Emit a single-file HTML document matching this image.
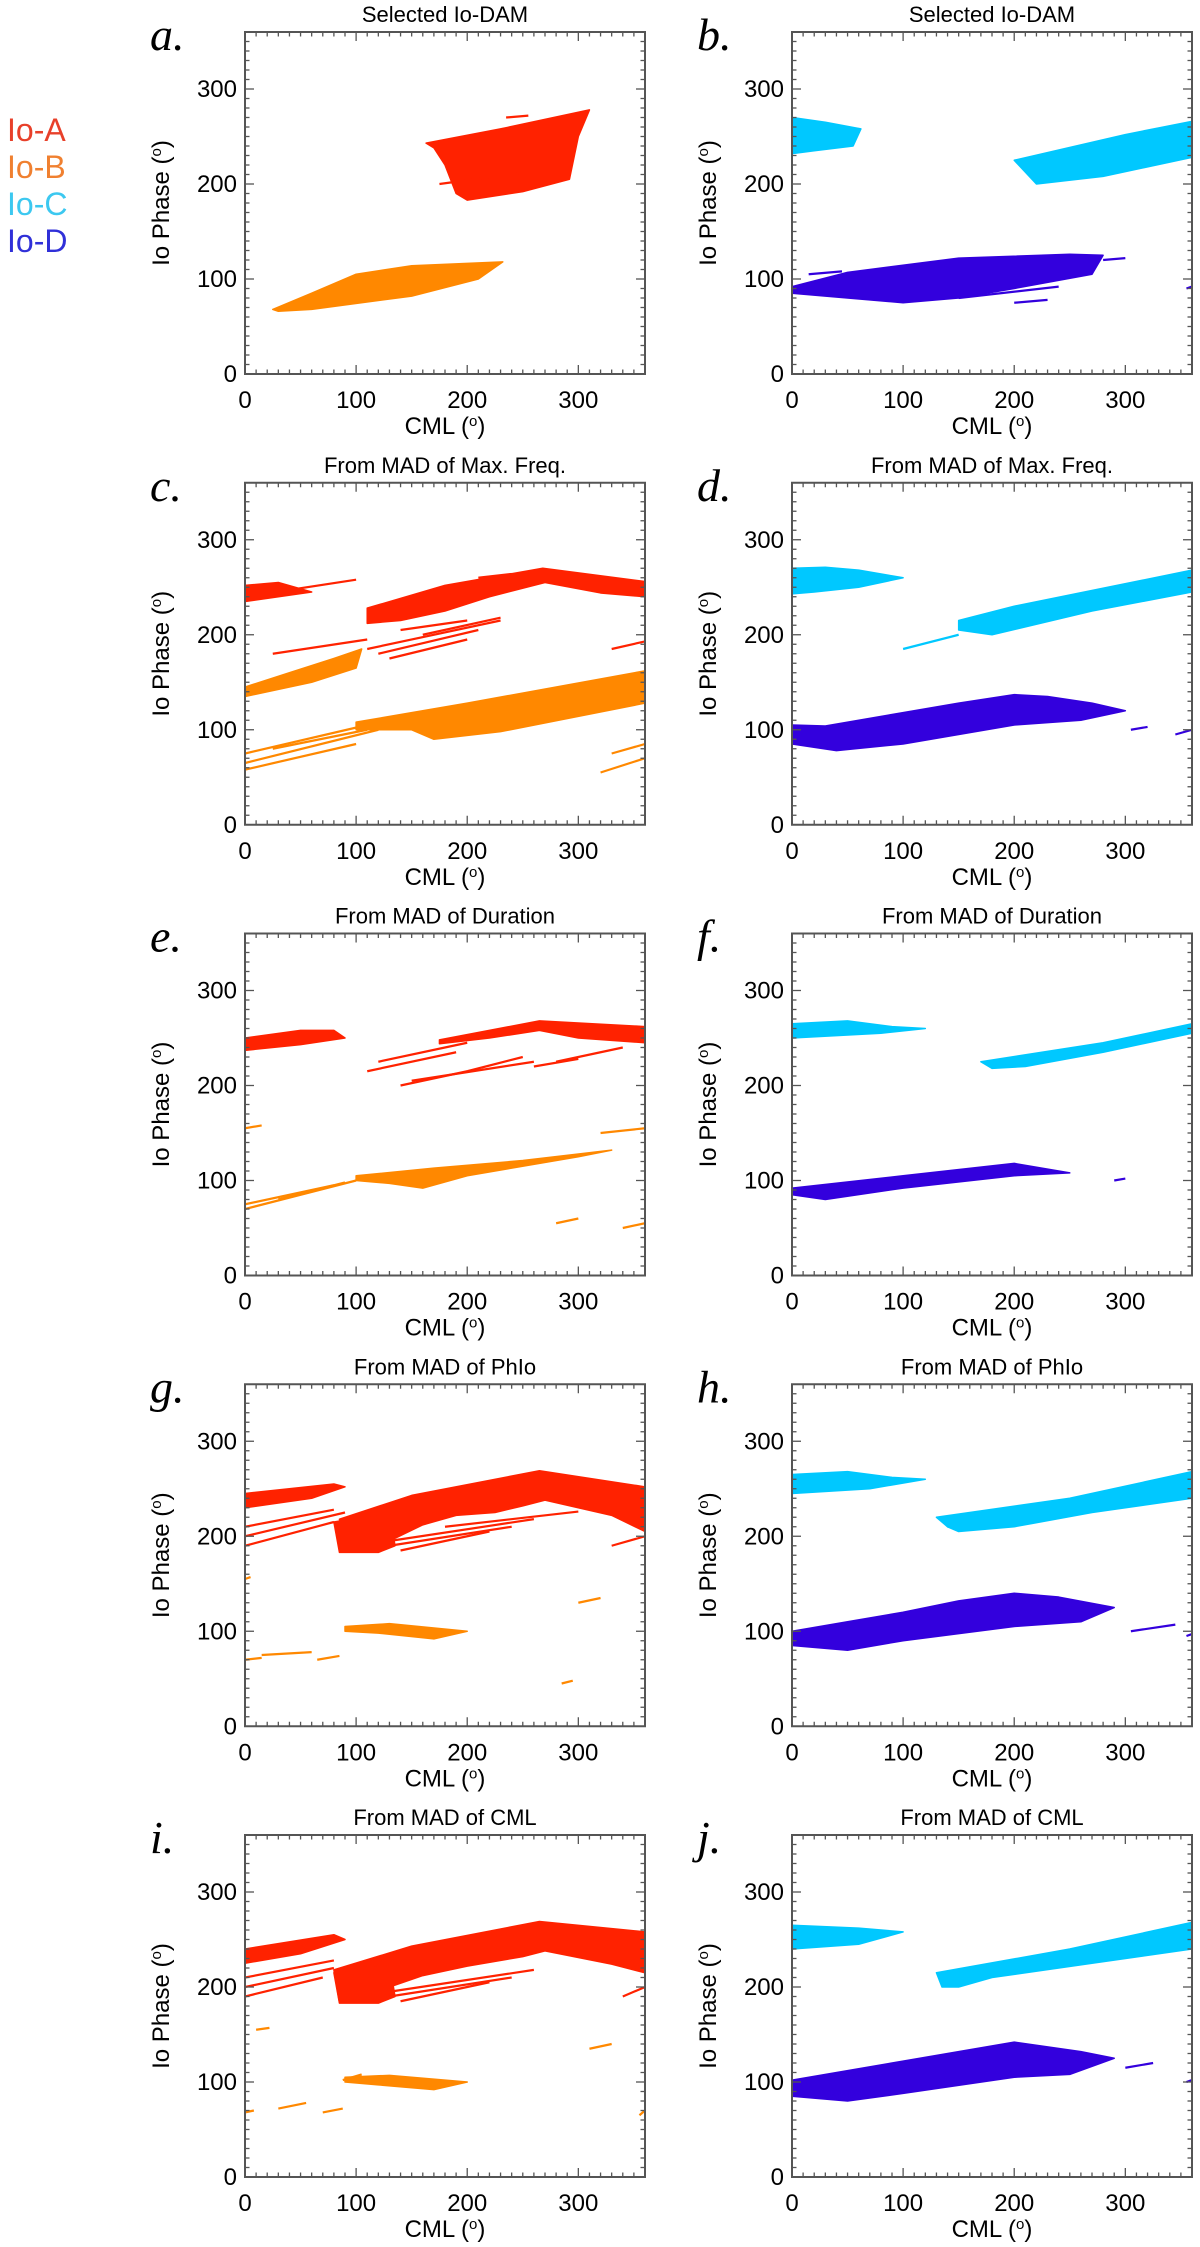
<!DOCTYPE html>
<html><head><meta charset="utf-8">
<style>
html,body{margin:0;padding:0;background:#fff;}
svg{display:block;}
text{font-family:"Liberation Sans",sans-serif;}
text.letter{font-family:"Liberation Serif",serif;font-style:italic;}
</style></head>
<body>
<svg id="fig" width="1200" height="2247" viewBox="0 0 1200 2247" xmlns="http://www.w3.org/2000/svg">
<g>
<text x="7" y="141" font-size="32" fill="#e8402a">Io-A</text>
<text x="7" y="178" font-size="32" fill="#f08030">Io-B</text>
<text x="7" y="215" font-size="32" fill="#3cc8f0">Io-C</text>
<text x="7" y="252" font-size="32" fill="#3030d8">Io-D</text>
</g>
</svg>
<script>
// ---- data (CML deg, Io phase deg) ----
const xTicks = [0,100,200,300];
const yTicks = [0,100,200,300];
const panelLetters = ["a.","b.","c.","d.","e.","f.","g.","h.","i.","j."];
const panelTitles = ["Selected Io-DAM","Selected Io-DAM","From MAD of Max. Freq.","From MAD of Max. Freq.","From MAD of Duration","From MAD of Duration","From MAD of PhIo","From MAD of PhIo","From MAD of CML","From MAD of CML"];
const colors = {A:"#ff2200",B:"#ff8800",C:"#00c8ff",D:"#3300dd"};

// polygons: [species, [[cml,phase],...]]
const polysA = [["A",[[163,243],[230,258],[310,278],[300,250],[292,205],[250,192],[200,183],[190,190],[180,220],[170,238]]],
 ["B",[[25,68],[60,85],[100,105],[150,114],[232,118],[210,100],[150,82],[60,68],[30,66]]]];
const polysB = [["C",[[0,270],[30,265],[62,258],[55,240],[20,235],[0,232]]],
 ["C",[[200,225],[300,252],[360,266],[360,228],[280,208],[220,200]]],
 ["D",[[0,92],[50,107],[150,122],[250,126],[280,125],[270,105],[200,90],[150,80],[100,75],[50,80],[0,85]]]];
const polysC = [["A",[[0,252],[30,255],[60,245],[0,235]]],
 ["A",[[110,228],[180,252],[268,270],[360,256],[360,240],[320,244],[270,255],[220,240],[180,225],[140,215],[110,212]]],
 ["B",[[0,145],[40,160],[80,175],[105,185],[100,165],[60,150],[0,135]]],
 ["B",[[100,108],[200,128],[360,162],[360,128],[230,98],[170,90],[150,100],[100,100]]]];
const polysD = [["C",[[0,270],[30,271],[60,268],[90,262],[100,260],[60,250],[20,245],[0,243]]],
 ["C",[[150,215],[200,230],[360,268],[360,245],[270,225],[180,200],[150,205]]],
 ["D",[[0,105],[30,104],[100,118],[150,128],[200,137],[230,135],[270,128],[300,120],[260,110],[200,105],[100,85],[40,78],[0,85]]]];
const polysE = [["A",[[0,250],[50,258],[80,258],[90,250],[50,243],[0,237]]],
 ["A",[[175,248],[265,268],[360,262],[360,245],[300,250],[265,258],[220,250],[175,244]]],
 ["B",[[100,105],[170,113],[250,121],[330,132],[300,125],[200,105],[160,92],[130,97],[100,100]]]];
const polysF = [["C",[[0,265],[50,268],[90,262],[120,260],[80,255],[0,250]]],
 ["C",[[170,225],[280,245],[360,265],[360,255],[280,235],[210,220],[180,218]]],
 ["D",[[0,92],[100,105],[200,118],[250,108],[200,105],[100,92],[30,80],[0,85]]]];
const polysG = [["A",[[0,245],[80,255],[90,252],[60,240],[0,230]]],
 ["A",[[85,218],[150,243],[265,269],[360,252],[360,205],[330,222],[270,238],[250,232],[225,225],[190,222],[160,212],[130,195],[120,186],[90,184]]],
 ["A",[[80,215],[130,225],[135,190],[120,183],[85,183]]],
 ["B",[[90,105],[130,108],[200,100],[170,92],[120,98],[90,100]]]];
const polysH = [["C",[[0,265],[50,268],[90,262],[120,260],[70,250],[0,245]]],
 ["C",[[130,220],[250,240],[360,268],[360,240],[270,225],[200,210],[150,205],[140,210]]],
 ["D",[[0,100],[50,110],[100,120],[150,132],[200,140],[240,136],[290,125],[260,110],[200,105],[100,90],[50,80],[0,85]]]];
const polysI = [["A",[[0,240],[80,255],[90,250],[50,235],[0,225]]],
 ["A",[[80,218],[150,243],[265,269],[360,258],[360,215],[330,224],[270,238],[250,232],[200,222],[160,212],[130,200],[115,186],[85,184]]],
 ["A",[[80,215],[130,225],[135,190],[120,183],[85,183]]],
 ["B",[[90,105],[130,107],[200,100],[170,92],[120,97],[90,100]]]];
const polysJ = [["C",[[0,265],[60,262],[100,258],[60,245],[0,240]]],
 ["C",[[130,215],[250,240],[360,268],[360,240],[270,225],[180,210],[150,200],[135,200]]],
 ["D",[[0,102],[100,122],[200,142],[260,132],[290,125],[250,108],[200,105],[100,88],[50,80],[0,85]]]];

// streaks: [species, cml0, phase0, cml1, phase1]
const streaksA = [["A",235,270,255,272],["A",175,200,270,215],["B",50,75,120,90]];
const streaksB = [["D",15,105,45,108],["D",200,75,230,78],["D",150,80,240,92],["D",280,120,300,122],["D",355,90,360,92]];
const streaksC = [["A",0,240,100,258],["A",25,180,110,195],["A",110,185,230,215],["A",120,180,210,205],["A",130,175,200,195],["A",160,200,230,218],["A",140,205,200,215],["A",330,185,360,193],["A",210,260,240,264],
 ["B",0,75,110,105],["B",0,65,120,100],["B",0,58,100,85],["B",25,80,110,100],["B",320,55,360,70],["B",330,75,360,85]];
const streaksD = [["C",100,185,150,200],["D",305,100,320,103],["D",345,95,360,100]];
const streaksE = [["A",120,225,200,245],["A",110,215,190,235],["A",140,200,200,215],["A",150,205,260,225],["A",200,215,250,230],["A",260,220,300,228],["A",280,225,340,240],
 ["B",0,70,100,100],["B",0,75,80,95],["B",30,80,90,98],["B",320,150,360,155],["B",340,50,360,55],["B",280,55,300,60],["B",0,155,15,158]];
const streaksF = [["D",290,100,300,102]];
const streaksG = [["A",0,200,90,225],["A",0,190,80,215],["A",0,210,80,228],["A",330,190,360,200],["A",130,190,240,210],["A",130,195,260,218],["A",140,185,220,205],["A",180,210,300,226],
 ["B",0,70,15,72],["B",15,75,60,78],["B",65,70,85,74],["B",300,130,320,135],["B",285,45,295,48],["B",0,155,5,157]];
const streaksH = [["C",140,210,160,213],["D",305,100,345,107],["D",355,95,360,97]];
const streaksI = [["A",0,200,80,220],["A",0,190,70,210],["A",0,210,80,228],["A",340,190,360,200],["A",130,190,240,210],["A",130,195,260,218],["A",140,185,220,205],
 ["B",0,68,8,70],["B",10,155,22,157],["B",30,72,55,78],["B",70,68,88,72],["B",310,135,330,140],["B",355,65,360,70],["B",88,102,105,108]];
const streaksJ = [["C",10,262,60,256],["D",300,115,325,120],["D",355,100,360,102]];

const panelPolys = [polysA,polysB,polysC,polysD,polysE,polysF,polysG,polysH,polysI,polysJ];
const panelStreaks = [streaksA,streaksB,streaksC,streaksD,streaksE,streaksF,streaksG,streaksH,streaksI,streaksJ];

// ---- layout ----
const NS="http://www.w3.org/2000/svg";
const svg=document.getElementById("fig");
const colLeft=[245,792], plotW=400, plotH=342, bottom0=374, rowStep=450.75;
function mk(tag,attrs,parent){const e=document.createElementNS(NS,tag);for(const k in attrs)e.setAttribute(k,attrs[k]);parent.appendChild(e);return e;}

for(let p=0;p<10;p++){
  const col=p%2,row=Math.floor(p/2);
  const L=colLeft[col], B=bottom0+row*rowStep, T=B-plotH, R=L+plotW;
  const xs=v=>L+v/360*plotW, ys=v=>B-v/360*plotH;
  const g=mk("g",{},svg);
  
  
  const cp=mk("clipPath",{id:"clip"+p},g); mk("rect",{x:L,y:T,width:plotW,height:plotH},cp);
  const data=mk("g",{"clip-path":"url(#clip"+p+")"},g);
  
  
  panelPolys[p].forEach(pp=>{
    const el=mk("polygon",{points:pp[1].map(q=>xs(q[0])+","+ys(q[1])).join(" "),fill:colors[pp[0]],stroke:colors[pp[0]],"stroke-width":1.5,"stroke-linejoin":"round"},data);
    
    
  });
  panelStreaks[p].forEach(s=>{
    const el=mk("line",{x1:xs(s[1]),y1:ys(s[2]),x2:xs(s[3]),y2:ys(s[4]),stroke:colors[s[0]],"stroke-width":2.2},data);
    
    
  });
  const ax=mk("g",{stroke:"#555","stroke-width":1.3},g);
  
  
  for(let v=0;v<=360;v+=10){
    const len=(v%100===0)?9:4.5, x=xs(v), y=ys(v);
    mk("line",{x1:x,y1:B,x2:x,y2:B-len},ax);mk("line",{x1:x,y1:T,x2:x,y2:T+len},ax);
    mk("line",{x1:L,y1:y,x2:L+len,y2:y},ax);mk("line",{x1:R,y1:y,x2:R-len,y2:y},ax);
  }
  mk("rect",{x:L,y:T,width:plotW,height:plotH,fill:"none",stroke:"#555","stroke-width":2},ax);
  xTicks.forEach(v=>{const t=mk("text",{x:xs(v),y:B+34,"font-size":24,"text-anchor":"middle"},g);t.textContent=v;
    });
  yTicks.forEach(v=>{const t=mk("text",{x:L-8,y:ys(v)+8,"font-size":24,"text-anchor":"end"},g);t.textContent=v;
    });
  const xt=mk("text",{x:L+plotW/2,y:B+60,"font-size":24,"text-anchor":"middle"},g);
  xt.innerHTML='CML (<tspan dy="-8" font-size="15">o</tspan><tspan dy="8">)</tspan>';
  
  const yx=L-76, yy=T+plotH/2;
  const yt=mk("text",{x:yx,y:yy,"font-size":24,"text-anchor":"middle",transform:"rotate(-90 "+yx+" "+yy+")"},g);
  yt.innerHTML='Io Phase (<tspan dy="-8" font-size="15">o</tspan><tspan dy="8">)</tspan>';
  
  const tt=mk("text",{x:L+plotW/2,y:T-10,"font-size":22,"text-anchor":"middle"},g);tt.textContent=panelTitles[p];
  
  const lt=mk("text",{x:L-95,y:T+18,"font-size":46,"class":"letter"},g);lt.textContent=panelLetters[p];
  
}
</script>
</body></html>
